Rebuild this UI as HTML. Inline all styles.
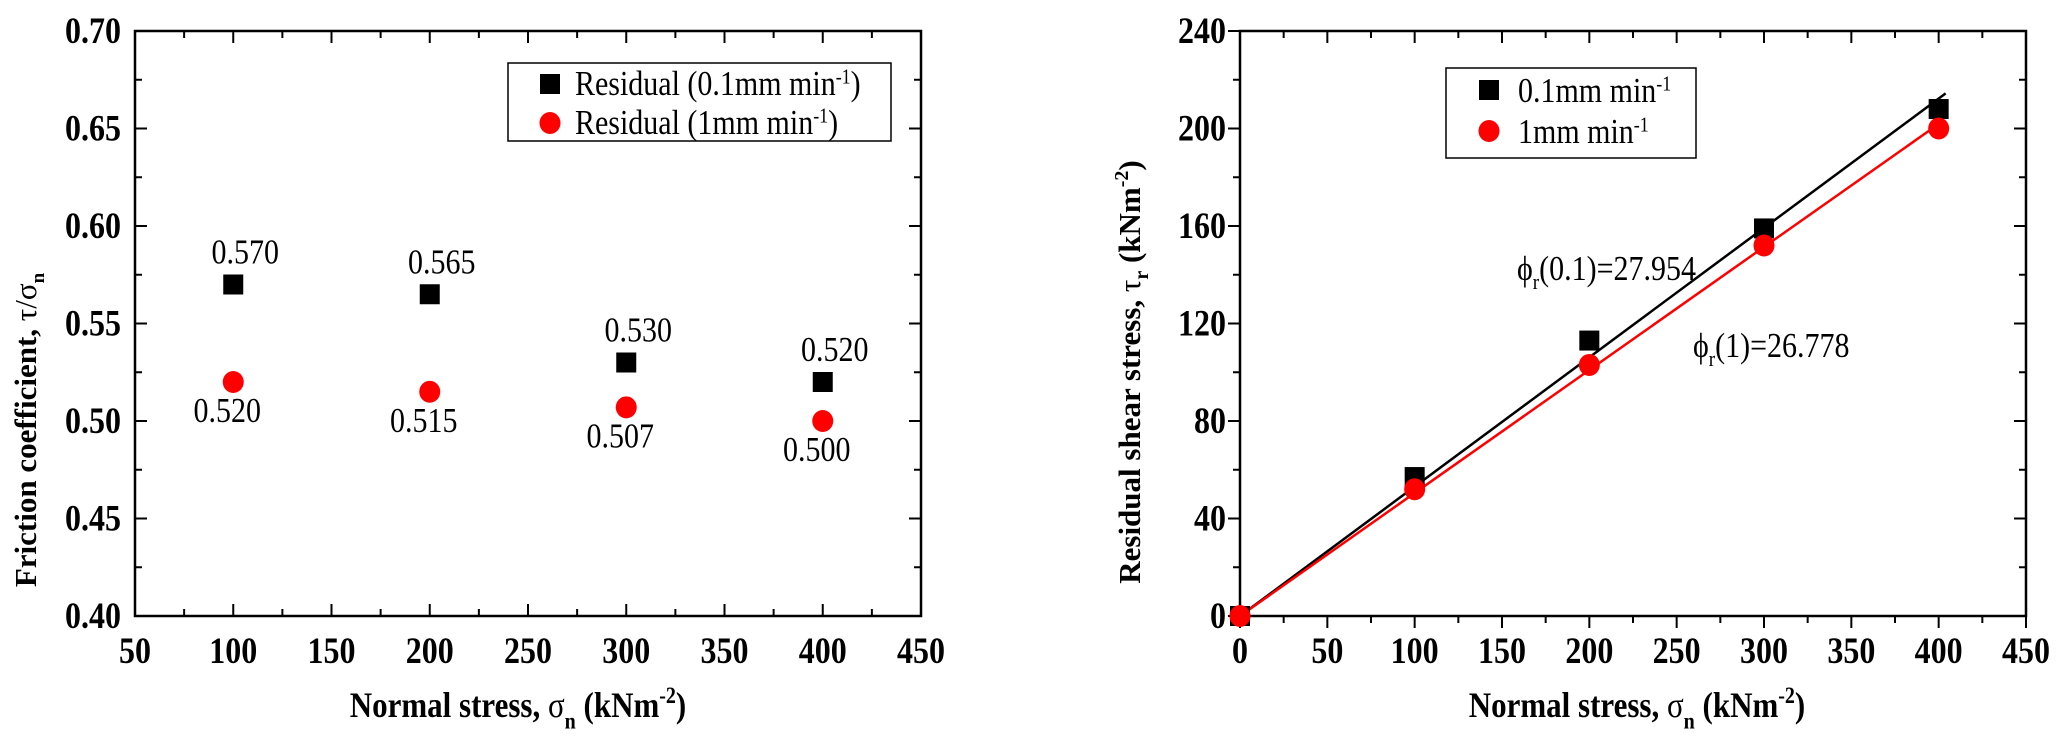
<!DOCTYPE html>
<html><head><meta charset="utf-8"><style>
html,body{margin:0;padding:0;background:#fff}
svg{display:block;font-family:"Liberation Serif",serif}
.tk{font-size:32px;font-weight:bold}
.ttl{font-size:31px;font-weight:bold}
.ann{font-size:30px}
</style></head><body>
<svg id="fig" width="2067" height="750" viewBox="0 0 2067 750" xmlns="http://www.w3.org/2000/svg">
<g id="left"></g>
<g id="right"></g>
</svg>
<script>
// Left chart data
const xStress = [100, 200, 300, 400];
const fricSlow = [0.570, 0.565, 0.530, 0.520];
const fricFast = [0.520, 0.515, 0.507, 0.500];
const fricSlowLabels = ["0.570", "0.565", "0.530", "0.520"];
const fricFastLabels = ["0.520", "0.515", "0.507", "0.500"];
const leftXTicks = [50, 100, 150, 200, 250, 300, 350, 400, 450];
const leftYTicks = ["0.40", "0.45", "0.50", "0.55", "0.60", "0.65", "0.70"];
// Right chart data
const shearX = [0, 100, 200, 300, 400];
const shearSlow = [0, 57, 113, 159, 208];
const shearFast = [0, 52, 103, 152, 200];
const fitAngles = [27.954, 26.778];
const rightXTicks = [0, 50, 100, 150, 200, 250, 300, 350, 400, 450];
const rightYTicks = [0, 40, 80, 120, 160, 200, 240];

const NS = "http://www.w3.org/2000/svg";
const SY = 1.15;
function mk(parent, tag, attrs, text) {
  const e = document.createElementNS(NS, tag);
  for (const k in attrs) e.setAttribute(k, attrs[k]);
  if (text !== undefined) e.textContent = text;
  parent.appendChild(e);
  return e;
}
function txt(parent, x, y, cls, anchor, html, rot, fs) {
  const t = mk(parent, "text", {x: 0, y: 0, class: cls, "text-anchor": anchor,
    transform: "translate(" + x + "," + y + ")" + (rot ? " rotate(-90)" : " scale(1," + SY + ")")});
  if (fs) t.setAttribute("font-size", fs);
  t.innerHTML = html;
  return t;
}

function axes(g, x0, x1, y0, y1, xmin, xmax, xt, ymin, ymax, yt, outward) {
  const sx = v => x0 + (v - xmin) / (xmax - xmin) * (x1 - x0);
  const sy = v => y1 - (v - ymin) / (ymax - ymin) * (y1 - y0);
  const frame = mk(g, "rect", {x: x0, y: y0, width: x1 - x0, height: y1 - y0, fill: "none", stroke: "#000", "stroke-width": 2.5});
  
  
  const dirB = outward ? 1 : -1, dirL = outward ? -1 : 1;
  for (let i = 0; i < xt.length; i++) {
    const v = xt[i], X = sx(v);
    mk(g, "line", {x1: X, y1: y1, x2: X, y2: y1 + dirB * 12, stroke: "#000", "stroke-width": 2});
    mk(g, "line", {x1: X, y1: y0, x2: X, y2: y0 + 12, stroke: "#000", "stroke-width": 2});
    if (i < xt.length - 1) {
      const m = sx(v + (xt[1] - xt[0]) / 2);
      mk(g, "line", {x1: m, y1: y1, x2: m, y2: y1 + dirB * 7, stroke: "#000", "stroke-width": 2});
      mk(g, "line", {x1: m, y1: y0, x2: m, y2: y0 + 7, stroke: "#000", "stroke-width": 2});
    }
    const t = txt(g, X, y1 + 47, "tk", "middle", String(v));
    
    
  }
  for (let i = 0; i < yt.length; i++) {
    const v = parseFloat(yt[i]), Y = sy(v);
    mk(g, "line", {x1: x0, y1: Y, x2: x0 + dirL * 12, y2: Y, stroke: "#000", "stroke-width": 2});
    mk(g, "line", {x1: x1, y1: Y, x2: x1 - 12, y2: Y, stroke: "#000", "stroke-width": 2});
    if (i < yt.length - 1) {
      const m = sy(v + (parseFloat(yt[1]) - parseFloat(yt[0])) / 2);
      mk(g, "line", {x1: x0, y1: m, x2: x0 + dirL * 7, y2: m, stroke: "#000", "stroke-width": 2});
      mk(g, "line", {x1: x1, y1: m, x2: x1 - 7, y2: m, stroke: "#000", "stroke-width": 2});
    }
    const t = txt(g, x0 - 14, Y + 12, "tk", "end", String(yt[i]));
    
    
  }
  return {sx, sy};
}
function square(g, x, y, name) {
  const r = mk(g, "rect", {x: x - 10, y: y - 10, width: 20, height: 20, fill: "#000"});
  
  
}
function circle(g, x, y, name) {
  const c = mk(g, "ellipse", {cx: x, cy: y, rx: 10.5, ry: 11, fill: "#f00"});
  
  
}

// LEFT
const L = document.getElementById("left");
const la = axes(L, 135, 921, 31, 616, 50, 450, leftXTicks, 0.40, 0.70, leftYTicks, false);
for (let i = 0; i < xStress.length; i++) {
  const X = la.sx(xStress[i]);
  square(L, X, la.sy(fricSlow[i]), 'point-slow-rate');
  circle(L, X, la.sy(fricFast[i]), 'point-fast-rate');
  const a = txt(L, X + 12, la.sy(fricSlow[i]) - 21, "ann", "middle", fricSlowLabels[i]);
  
  
  const b = txt(L, X - 6, la.sy(fricFast[i]) + 40, "ann", "middle", fricFastLabels[i]);
  
  
}
const lleg = mk(L, "g", {});


mk(lleg, "rect", {x: 508, y: 63, width: 383, height: 78, fill: "#fff", stroke: "#000", "stroke-width": 1.5});
square(lleg, 550, 84, 'legend-marker-slow');
circle(lleg, 550, 123, 'legend-marker-fast');
txt(lleg, 575, 95, "ann", "start", 'Residual (0.1mm min<tspan dy="-10" font-size="18">-1</tspan><tspan dy="10">)</tspan>');
txt(lleg, 575, 134, "ann", "start", 'Residual (1mm min<tspan dy="-10" font-size="18">-1</tspan><tspan dy="10">)</tspan>');
const lyt = txt(L, 36, 430, "ttl", "middle", 'Friction coefficient, <tspan font-weight="normal">τ/σ</tspan><tspan dy="8" font-size="19">n</tspan>', true, "28px");


const lxt = txt(L, 518, 717, "ttl", "middle", 'Normal stress, <tspan font-weight="normal">σ</tspan><tspan dy="10" font-size="20">n</tspan><tspan dy="-10"> (kNm</tspan><tspan dy="-12" font-size="20">-2</tspan><tspan dy="12">)</tspan>');



// RIGHT
const R = document.getElementById("right");
const ra = axes(R, 1240, 2026, 31, 616, 0, 450, rightXTicks, 0, 240, rightYTicks, true);
const lineEnd = [404, 400];
const colors = ["#000", "#f00"];
for (let k = 0; k < 2; k++) {
  const slope = Math.tan(fitAngles[k] * Math.PI / 180);
  const ln = mk(R, "line", {x1: ra.sx(0), y1: ra.sy(0), x2: ra.sx(lineEnd[k]), y2: ra.sy(slope * lineEnd[k]), stroke: colors[k], "stroke-width": 2.5});
  
  
}
for (let i = 0; i < shearX.length; i++) {
  square(R, ra.sx(shearX[i]), ra.sy(shearSlow[i]), 'point-slow-rate');
  circle(R, ra.sx(shearX[i]), ra.sy(shearFast[i]), 'point-fast-rate');
}
const a1 = txt(R, 1517, 280, "ann", "start", 'ϕ<tspan dy="8" font-size="19">r</tspan><tspan dy="-8">(0.1)=' + fitAngles[0].toFixed(3) + '</tspan>');


const a2 = txt(R, 1693, 357, "ann", "start", 'ϕ<tspan dy="8" font-size="19">r</tspan><tspan dy="-8">(1)=' + fitAngles[1].toFixed(3) + '</tspan>');


const rleg = mk(R, "g", {});


mk(rleg, "rect", {x: 1446, y: 68, width: 250, height: 90, fill: "#fff", stroke: "#000", "stroke-width": 1.5});
square(rleg, 1489, 90, 'legend-marker-slow');
circle(rleg, 1489, 131, 'legend-marker-fast');
txt(rleg, 1518, 102, "ann", "start", '0.1mm min<tspan dy="-10" font-size="18">-1</tspan>');
txt(rleg, 1518, 143, "ann", "start", '1mm min<tspan dy="-10" font-size="18">-1</tspan>');
const ryt = txt(R, 1140, 372, "ttl", "middle", 'Residual shear stress, <tspan font-weight="normal">τ</tspan><tspan dy="8" font-size="20">r</tspan><tspan dy="-8"> (kNm</tspan><tspan dy="-12" font-size="20">-2</tspan><tspan dy="12">)</tspan>', true, "30px");


const rxt = txt(R, 1637, 717, "ttl", "middle", 'Normal stress, <tspan font-weight="normal">σ</tspan><tspan dy="10" font-size="20">n</tspan><tspan dy="-10"> (kNm</tspan><tspan dy="-12" font-size="20">-2</tspan><tspan dy="12">)</tspan>');


</script>
</body></html>
